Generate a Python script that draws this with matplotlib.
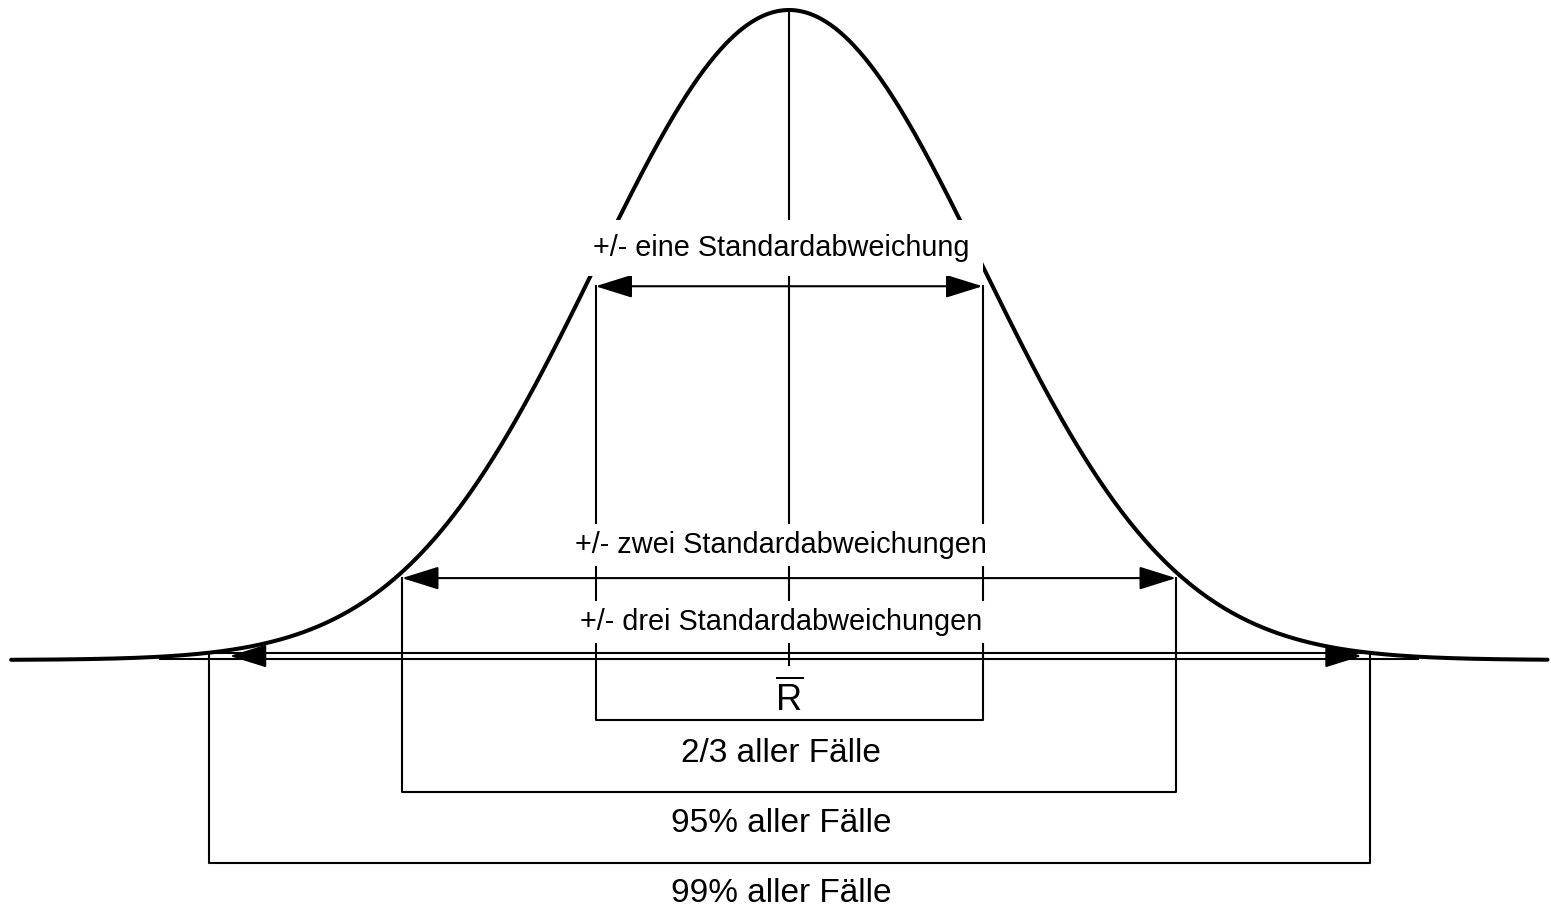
import numpy as np
import matplotlib.pyplot as plt

plt.rcParams['font.family'] = ['Liberation Sans', 'DejaVu Sans']
plt.rcParams['mathtext.fontset'] = 'custom'
plt.rcParams['mathtext.rm'] = 'Liberation Sans'

# x in standard deviations, y relative to the peak of the curve
sigmas = [1, 2, 3]
span_labels = ["+/- eine Standardabweichung",
               "+/- zwei Standardabweichungen",
               "+/- drei Standardabweichungen"]
share_labels = ["2/3 aller Fälle", "95% aller Fälle", "99% aller Fälle"]

arrow_y = [0.575, 0.126, 0.0062]
arrow_tips = [(-1.0, 1.0), (-2.0, 2.0), (-2.89, 2.96)]
vline_top = [0.575, 0.126, 0.0108]
bracket_y = [-0.092, -0.203, -0.312]
span_label_y = [0.6215, 0.1646, 0.0462]
span_label_pad = [10.0, 5.0, 5.0]
share_label_y = [-0.157, -0.265, -0.372]
baseline_pair = [0.002, 0.0108]
baseline_extent = [3.25, 3.0]
curve_range = (-4.02, 3.92)
label_x = -0.04

x = np.linspace(curve_range[0], curve_range[1], 800)
y = np.exp(-x ** 2 / 2)

fig = plt.figure(figsize=(15.51, 9.09), dpi=100)
ax = fig.add_axes([0, 0, 1, 1])
ax.set_xlim(-789 / 193.5, 762 / 193.5)
ax.set_ylim(-249 / 650, 660 / 650)
ax.axis('off')

lw = 1.5
ax.plot(x, y, color='black', lw=2.9, solid_capstyle='round', zorder=2)

# mean line
ax.plot([0, 0], [-0.0077, 1.0], color='black', lw=lw, zorder=1)

# double base line
for yy, ext in zip(baseline_pair, baseline_extent):
    ax.plot([-ext, ext], [yy, yy], color='black', lw=lw, zorder=1)

# brackets
for s, top, by in zip(sigmas, vline_top, bracket_y):
    ax.plot([-s, -s, s, s], [top, by, by, top], color='black', lw=lw, zorder=1)

# arrows
head = 'head_length=2.3,head_width=0.72'
for i, (ay, (l, r)) in enumerate(zip(arrow_y, arrow_tips)):
    if i < 2:
        ax.annotate('', xy=(r, ay), xytext=(l, ay),
                    arrowprops=dict(arrowstyle='<|-|>,' + head, mutation_scale=10,
                                    lw=lw, color='black', shrinkA=0, shrinkB=0),
                    zorder=3)
    else:
        hl = 32 / 193.5
        for tip, base in [(l, l + hl), (r, r - hl)]:
            ax.annotate('', xy=(tip, ay), xytext=(base, ay),
                        arrowprops=dict(arrowstyle='-|>,' + head, mutation_scale=10,
                                        lw=lw, color='black', shrinkA=0, shrinkB=0),
                        zorder=3)

# labels
for txt, ly, pad in zip(span_labels, span_label_y, span_label_pad):
    ax.text(label_x, ly, txt, ha='center', va='baseline', fontsize=20.8,
            bbox=dict(facecolor='white', edgecolor='none', pad=pad), zorder=5)

for txt, ly in zip(share_labels, share_label_y):
    ax.text(label_x, ly, txt, ha='center', va='baseline', fontsize=24, zorder=5)

ax.text(0, -0.078, r'$\overline{\mathrm{R}}$', ha='center', va='baseline', fontsize=26, zorder=5)

fig.savefig('out.png', dpi=100)
